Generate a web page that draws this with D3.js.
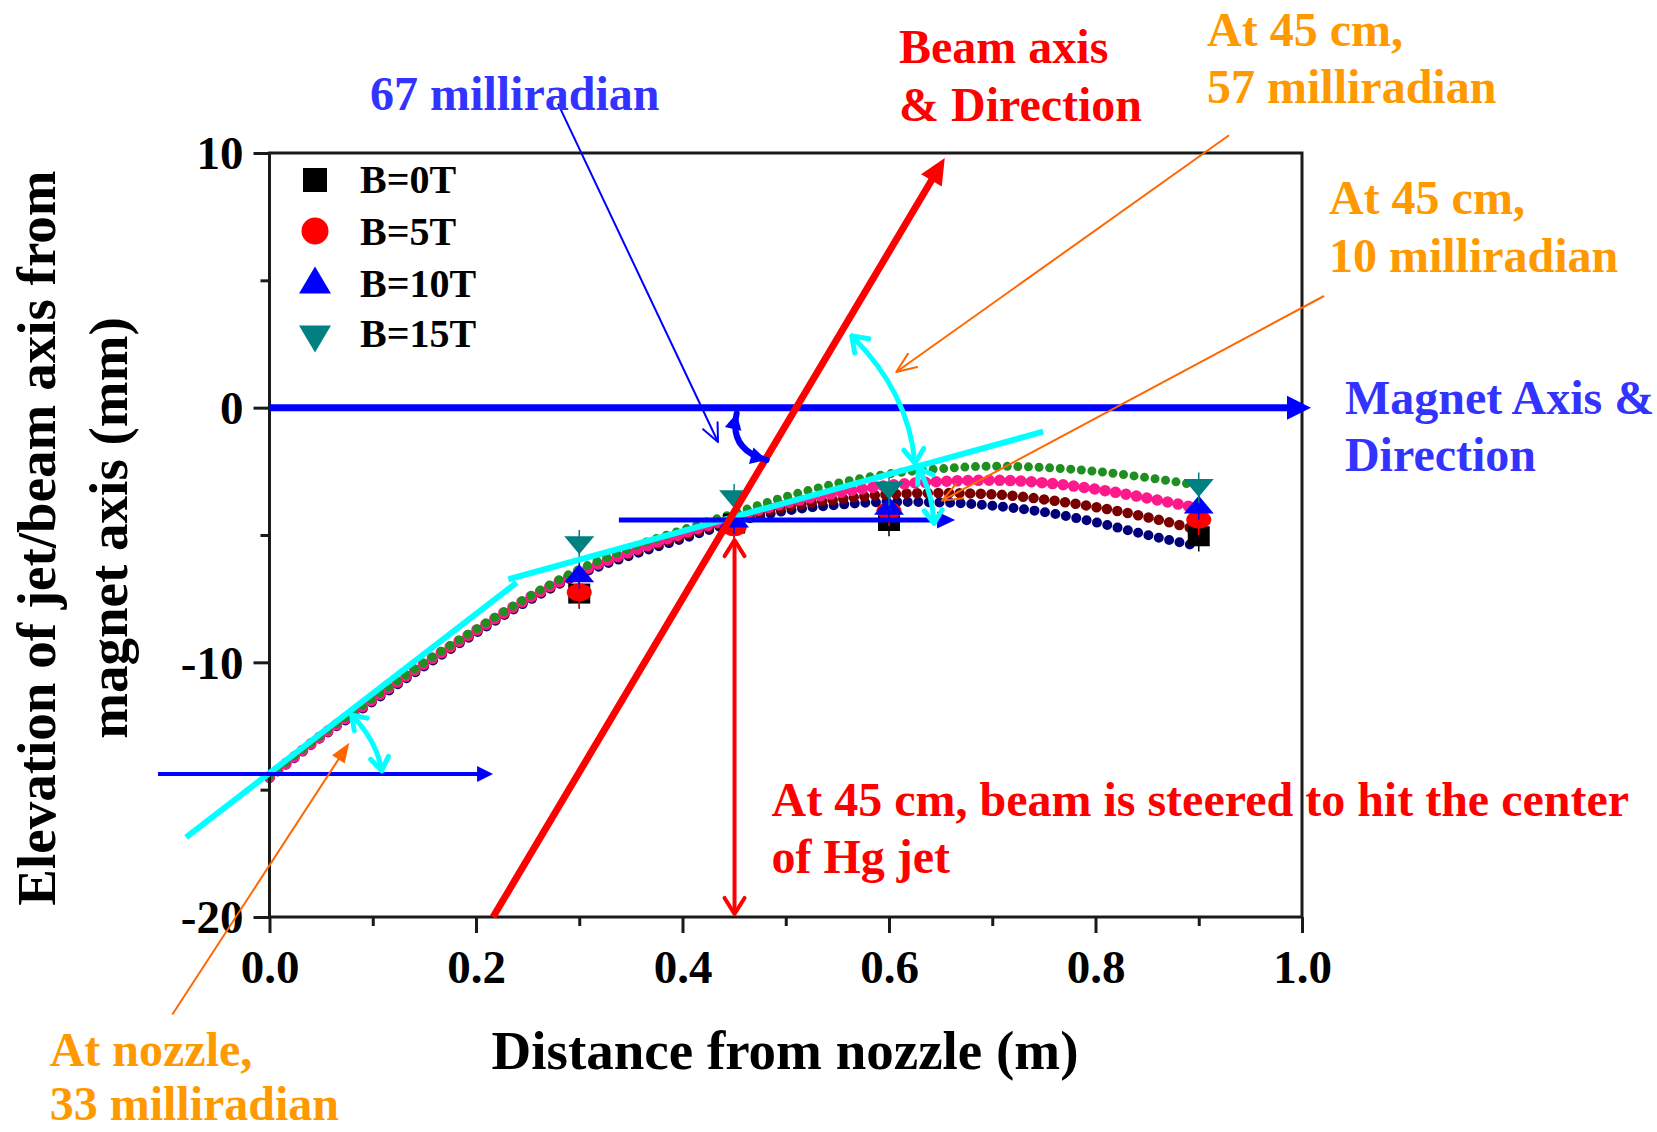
<!DOCTYPE html>
<html><head><meta charset="utf-8">
<script src="https://cdn.jsdelivr.net/npm/d3@7"></script>
<style>
body{margin:0;background:#fff}
svg{display:block}
text{font-family:"Liberation Serif","Times New Roman",serif;font-weight:bold}
</style>
</head><body>
<svg id="c" width="1657" height="1132"></svg>
<script>
// ---------------- data ----------------
const xTicks = [0, 0.2, 0.4, 0.6, 0.8, 1.0];
const xMinor = [0.1, 0.3, 0.5, 0.7, 0.9];
const yTicks = [-20, -10, 0, 10];
const yMinor = [-15, -5, 5];
const seriesNames = ["B=0T", "B=5T", "B=10T", "B=15T"];

// measured jet centre positions (mm)
const measX   = [0.30, 0.45, 0.60, 0.90];
const measB0  = [-7.3, -4.55, -4.45, -5.05];
const measB5  = [-7.25, -4.7, -4.05, -4.4];
const measB10 = [-6.5, -4.35, -3.85, -3.8];
const measB15 = [-5.4, -3.6, -3.25, -3.15];
const measErr = [0.6, 0.6, 0.6, 0.6];

// fitted trajectories (mm)
const fitX   = [0, 0.05, 0.1, 0.15, 0.2, 0.25, 0.3, 0.35, 0.4, 0.45, 0.5, 0.55, 0.6, 0.65, 0.7, 0.75, 0.8, 0.85, 0.9];
const fitB0  = [-14.55,-12.95,-11.55,-10.15,-8.85,-7.6,-6.55,-5.8,-5.15,-4.5,-4.05,-3.82,-3.7,-3.72,-3.85,-4.1,-4.5,-5.0,-5.45];
const fitB5  = [-14.5,-12.9,-11.5,-10.1,-8.8,-7.55,-6.5,-5.7,-5.05,-4.4,-3.9,-3.6,-3.4,-3.35,-3.4,-3.6,-3.9,-4.3,-4.8];
const fitB10 = [-14.5,-12.9,-11.45,-10.05,-8.75,-7.5,-6.45,-5.65,-4.95,-4.3,-3.75,-3.35,-3.05,-2.9,-2.85,-2.95,-3.2,-3.55,-3.95];
const fitB15 = [-14.45,-12.85,-11.4,-10.0,-8.7,-7.45,-6.35,-5.5,-4.8,-4.15,-3.5,-2.97,-2.6,-2.4,-2.3,-2.35,-2.5,-2.75,-3.05];

// annotation geometry (data units: m, mm)
const beamAxis      = [[0.2165, -20], [0.654, 9.8]];
const magnetAxis    = [[0, 0], [1.0087, 0]];
const nozzleRef     = [[-0.108, -14.38], [0.2165, -14.38]];
const midRef        = [[0.3384, -4.41], [0.664, -4.41]];
const tangentNozzle = [[-0.0808, -16.87], [0.2394, -6.87]];
const tangentMid    = [[0.2313, -6.74], [0.7494, -0.94]];
const steerArrow    = [[0.4504, -5.2], [0.4504, -19.88]];
const pointer67     = [[0.2794, 11.94], [0.4344, -1.35]];
const pointer57     = [[0.9293, 10.695], [0.607, 1.40]];
const pointer10     = [[1.0213, 4.385], [0.6513, -3.65]];
const pointerNozzle = [[-0.0941, -23.83], [0.0773, -13.155]];
// arcs: start, control, end
const arc33 = [[0.0796, -12.07], [0.1038, -13.08], [0.1087, -14.255]];
const arc57 = [[0.564, 2.814], [0.619, 0.6], [0.6252, -2.184]];
const arc10 = [[0.6284, -2.39], [0.6416, -3.23], [0.6436, -4.54]];
const arc67 = [[0.4525, -0.22], [0.4444, -1.637], [0.4815, -2.055]];

const labels = [
  {t: "67 milliradian", p: [0.0974, 11.688], c: "#3333ff"},
  {t: "Beam axis", p: [0.6097, 13.534], c: "#ff0000"},
  {t: "& Direction", p: [0.6097, 11.237], c: "#ff0000"},
  {t: "At 45 cm,", p: [0.9080, 14.20], c: "#ff9900"},
  {t: "57 milliradian", p: [0.9080, 11.944], c: "#ff9900"},
  {t: "At 45 cm,", p: [1.0261, 7.624], c: "#ff9900"},
  {t: "10 milliradian", p: [1.0261, 5.343], c: "#ff9900"},
  {t: "Magnet Axis &", p: [1.0416, -0.249], c: "#3333ff"},
  {t: "Direction", p: [1.0416, -2.487], c: "#3333ff"},
  {t: "At 45 cm, beam is steered to hit the center", p: [0.4862, -16.034], c: "#ff0000"},
  {t: "of Hg jet", p: [0.4862, -18.272], c: "#ff0000"},
  {t: "At nozzle,", p: [-0.2129, -25.85], c: "#ff9900"},
  {t: "33 milliradian", p: [-0.2129, -27.98], c: "#ff9900"}
];

// ---------------- setup ----------------
const svg = d3.select("#c");
const x = d3.scaleLinear().domain([0, 1]).range([269.5, 1302]);
const y = d3.scaleLinear().domain([-20, 10]).range([917, 153]);
const P = d => [x(d[0]), y(d[1])];
const axisColor = "#1a1a1a";

// ---------------- fitted curves ----------------
const fitDefs = [
  {v: fitB0, c: "#00007a", w: 10},
  {v: fitB5, c: "#7a0000", w: 10.5},
  {v: fitB10, c: "#ff1a8c", w: 11.5},
  {v: fitB15, c: "#1f8f1f", w: 9}
];
const lineGen = d3.line().x(d => x(d[0])).y(d => y(d[1])).curve(d3.curveMonotoneX);
const gFit = svg.append("g");
fitDefs.forEach(f => {
  gFit.append("path")
    .attr("d", lineGen(fitX.map((xv, i) => [xv, f.v[i]])))
    .attr("fill", "none").attr("stroke", f.c)
    .attr("stroke-width", f.w).attr("stroke-linecap", "round")
    .attr("stroke-dasharray", "0 10.6");
});

// ---------------- frame & axes ----------------
const gAx = svg.append("g");
const xAxis = gAx.append("g").attr("transform", `translate(0,${y(-20)})`)
  .call(d3.axisBottom(x).tickValues(xTicks).tickSize(16).tickFormat(d3.format(".1f")));
gAx.append("g").attr("transform", `translate(0,${y(-20)})`)
  .call(d3.axisBottom(x).tickValues(xMinor).tickSize(9).tickFormat(""));
const yAxis = gAx.append("g").attr("transform", `translate(${x(0)},0)`)
  .call(d3.axisLeft(y).tickValues(yTicks).tickSize(16).tickPadding(10).tickFormat(d => String(d)));
gAx.append("g").attr("transform", `translate(${x(0)},0)`)
  .call(d3.axisLeft(y).tickValues(yMinor).tickSize(9).tickFormat(""));
gAx.selectAll(".domain").remove();
gAx.selectAll(".tick line").attr("stroke", axisColor).attr("stroke-width", 3);
gAx.selectAll(".tick text").attr("fill", "#000").style("font-size", "47px")
  .style("font-family", '"Liberation Serif","Times New Roman",serif').style("font-weight", "bold");
xAxis.selectAll(".tick text").attr("y", 66).attr("dy", 0);
yAxis.selectAll(".tick text").attr("dy", "0.34em");
gAx.append("rect").attr("x", x(0)).attr("y", y(10))
  .attr("width", x(1) - x(0)).attr("height", y(-20) - y(10))
  .attr("fill", "none").attr("stroke", axisColor).attr("stroke-width", 3);

// axis titles
svg.append("text").attr("x", 785).attr("y", 1069).attr("text-anchor", "middle")
  .style("font-size", "55px").text("Distance from nozzle (m)");
svg.append("text").attr("transform", "translate(55,538) rotate(-90)").attr("text-anchor", "middle")
  .style("font-size", "55px").text("Elevation of jet/beam axis from");
svg.append("text").attr("transform", "translate(127,528) rotate(-90)").attr("text-anchor", "middle")
  .style("font-size", "55px").text("magnet axis (mm)");

// ---------------- marker shapes ----------------
function shape(type, w, h) {
  const p = d3.path();
  if (type === "square") { p.rect(-w/2, -h/2, w, h); }
  else if (type === "up") { p.moveTo(0,-h/2); p.lineTo(w/2,h/2); p.lineTo(-w/2,h/2); p.closePath(); }
  else if (type === "down") { p.moveTo(-w/2,-h/2); p.lineTo(w/2,-h/2); p.lineTo(0,h/2); p.closePath(); }
  return p.toString();
}
function ellipsePath(w, h) {
  const rx = w/2, ry = h/2;
  return `M${-rx},0A${rx},${ry} 0 1,0 ${rx},0A${rx},${ry} 0 1,0 ${-rx},0Z`;
}
const measDefs = [
  {v: measB0, type: "square", c: "#000000", w: 22, h: 20, lw: 24, lh: 24},
  {v: measB5, type: "circle", c: "#ff0000", w: 25, h: 18, lw: 27, lh: 27},
  {v: measB10, type: "up", c: "#0000ff", w: 30, h: 18, lw: 32, lh: 27},
  {v: measB15, type: "down", c: "#008080", w: 30, h: 18, lw: 32, lh: 27}
];
const shapePath = (m, w, h) => m.type === "circle" ? ellipsePath(w, h) : shape(m.type, w, h);

const gMeas = svg.append("g");
measDefs.forEach(m => {
  measX.forEach((xv, i) => {
    gMeas.append("line")
      .attr("x1", x(xv)).attr("x2", x(xv))
      .attr("y1", y(m.v[i] + measErr[i])).attr("y2", y(m.v[i] - measErr[i]))
      .attr("stroke", m.c).attr("stroke-width", 1.5);
    gMeas.append("path").attr("d", shapePath(m, m.w, m.h))
      .attr("transform", `translate(${x(xv)},${y(m.v[i])})`).attr("fill", m.c);
  });
});

// legend
const gLeg = svg.append("g");
const legY = [180, 231, 280, 331];
const legBase = [193, 245, 297, 347];
measDefs.forEach((m, i) => {
  gLeg.append("path").attr("d", shapePath(m, m.lw, m.lh))
    .attr("transform", `translate(315,${legY[i] + (m.type === "down" ? 8 : 0)})`).attr("fill", m.c);
  gLeg.append("text").attr("x", 360).attr("y", legBase[i]).style("font-size", "40px").text(seriesNames[i]);
});

// ---------------- annotations ----------------
const gAnn = svg.append("g");
function head(tip, from, o) {
  const dx = tip[0] - from[0], dy = tip[1] - from[1];
  const L = Math.hypot(dx, dy), ux = dx / L, uy = dy / L;
  const bx = tip[0] - ux * o.len, by = tip[1] - uy * o.len;
  const l = [bx - uy * o.wid / 2, by + ux * o.wid / 2];
  const r = [bx + uy * o.wid / 2, by - ux * o.wid / 2];
  if (o.filled) {
    gAnn.append("path").attr("d", `M${l}L${tip}L${r}Z`).attr("fill", o.color);
  } else {
    gAnn.append("path").attr("d", `M${l}L${tip}L${r}`).attr("fill", "none")
      .attr("stroke", o.color).attr("stroke-width", o.sw).attr("stroke-linecap", "round")
      .attr("stroke-linejoin", "round");
  }
}
function shorten(a, b, d) {
  const L = Math.hypot(b[0]-a[0], b[1]-a[1]);
  return [b[0] - (b[0]-a[0]) / L * d, b[1] - (b[1]-a[1]) / L * d];
}
function arrowLine(seg, o) {
  const a = P(seg[0]), b = P(seg[1]);
  const end = o.heads && o.filled ? shorten(a, b, o.len * 0.7) : b;
  const start = o.both && o.filled ? shorten(b, a, o.len * 0.7) : a;
  gAnn.append("line").attr("x1", start[0]).attr("y1", start[1]).attr("x2", end[0]).attr("y2", end[1])
    .attr("stroke", o.color).attr("stroke-width", o.sw).attr("stroke-linecap", o.cap || "butt");
  if (o.heads) head(b, a, o);
  if (o.both) head(a, b, o);
}
function arrowArc(arc, o) {
  const a = P(arc[0]), c = P(arc[1]), b = P(arc[2]);
  gAnn.append("path").attr("d", `M${a}Q${c} ${b}`).attr("fill", "none")
    .attr("stroke", o.color).attr("stroke-width", o.sw).attr("stroke-linecap", "round");
  head(b, c, o); head(a, c, o);
}

// tangent lines (cyan)
[tangentNozzle, tangentMid].forEach(s => {
  const a = P(s[0]), b = P(s[1]);
  gAnn.append("line").attr("x1", a[0]).attr("y1", a[1]).attr("x2", b[0]).attr("y2", b[1])
    .attr("stroke", "#00ffff").attr("stroke-width", 6);
});
// horizontal references
arrowLine(magnetAxis, {color: "#0000ff", sw: 7, heads: true, filled: true, len: 24, wid: 24});
arrowLine(nozzleRef, {color: "#0000ff", sw: 4, heads: true, filled: true, len: 16, wid: 16});
arrowLine(midRef, {color: "#0000ff", sw: 5, heads: true, filled: true, len: 18, wid: 17});
// beam axis
arrowLine(beamAxis, {color: "#ff0000", sw: 7, heads: true, filled: true, len: 26, wid: 24});
// steering double arrow
arrowLine(steerArrow, {color: "#ff0000", sw: 4, heads: true, both: true, filled: false, len: 16, wid: 20});
// angle arcs
arrowArc(arc33, {color: "#00ffff", sw: 5, filled: false, len: 13, wid: 18});
arrowArc(arc57, {color: "#00ffff", sw: 5, filled: false, len: 14, wid: 20});
arrowArc(arc10, {color: "#00ffff", sw: 5, filled: false, len: 13, wid: 18});
arrowArc(arc67, {color: "#0000ff", sw: 6, filled: true, len: 16, wid: 17});
// pointers
arrowLine(pointer67, {color: "#0000ff", sw: 2, heads: true, filled: false, len: 18, wid: 16});
arrowLine(pointer57, {color: "#ff6600", sw: 2, heads: true, filled: false, len: 20, wid: 16});
arrowLine(pointer10, {color: "#ff6600", sw: 2, heads: true, filled: false, len: 20, wid: 16});
arrowLine(pointerNozzle, {color: "#ff6600", sw: 2, heads: true, filled: true, len: 20, wid: 15});

// labels
labels.forEach(l => {
  gAnn.append("text").attr("x", x(l.p[0])).attr("y", y(l.p[1]))
    .attr("fill", l.c).style("font-size", "48px").text(l.t);
});
</script>
</body></html>
